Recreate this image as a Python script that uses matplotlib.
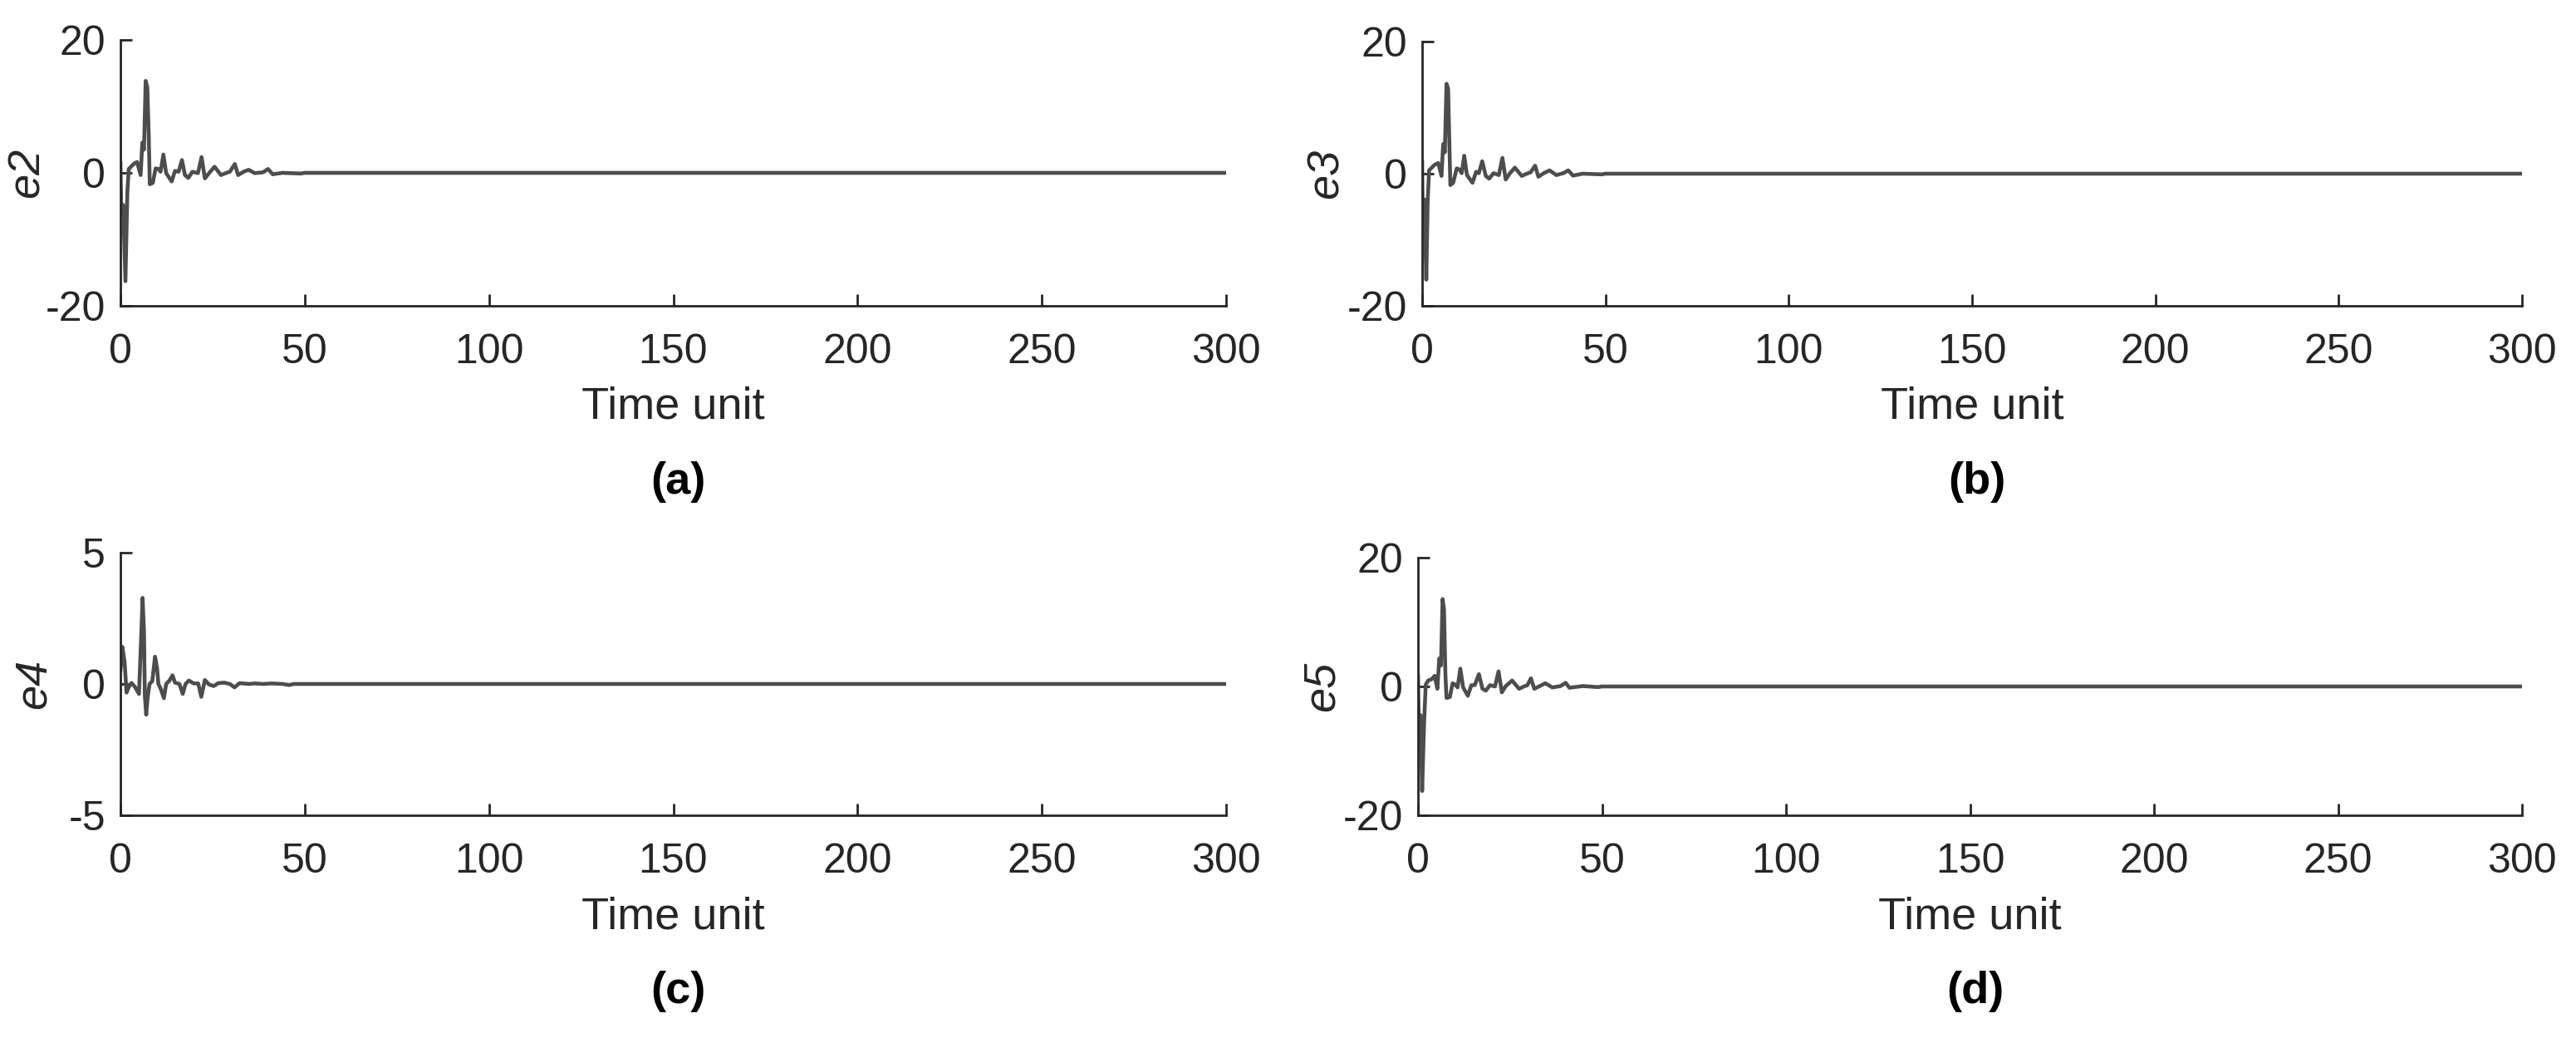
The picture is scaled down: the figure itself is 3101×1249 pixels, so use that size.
import matplotlib
matplotlib.use("Agg")
import matplotlib.pyplot as plt

plt.rcParams['font.family'] = ['Liberation Sans', 'DejaVu Sans']
plt.rcParams['axes.unicode_minus'] = False

# error traces (time unit, value); flat at zero after ~50
t_e2 = [0, 0.23, 0.75, 1.35, 1.88, 2.25, 3.0, 3.76, 4.51, 5.48, 5.93, 6.39, 6.84, 7.29, 7.66, 7.96,
        8.79, 9.54, 10.29, 10.89, 11.65, 12.40, 13.90, 14.80, 15.78, 16.68, 17.50, 18.41, 19.53,
        21.03, 22.01, 22.91, 24.04, 25.54, 27.27, 28.55, 29.68, 31.03, 31.93, 33.43, 34.78, 36.44,
        38.69, 40.04, 41.32, 43.95, 49.0, 50.0, 300]
v_e2 = [1.42, -6.08, -4.83, -16.29, -2.75, 0.58, 1.0, 1.42, 1.63, -0.33, 4.54, 3.5, 13.83, 12.88, 6.0,
        -1.71, -1.5, 0.67, 0.58, 0.17, 2.75, -0.04, -1.29, 0.29, 0.17, 1.92, -0.33, -0.75, 0.17,
        -0.04, 2.38, -0.83, -0.04, 0.92, -0.33, -0.04, 0.17, 1.33, -0.33, 0.17, 0.46, -0.04,
        0.08, 0.58, -0.21, 0.0, -0.1, 0.0, 0.0]

t_e3 = [0, 0.14, 0.6, 1.13, 1.5, 1.88, 2.63, 3.39, 4.37, 5.28, 5.73, 6.18, 6.64, 7.09, 7.39, 7.69,
        8.45, 9.43, 10.19, 10.79, 11.47, 12.22, 13.73, 14.72, 15.47, 16.38, 17.36, 18.26, 19.47,
        20.91, 21.89, 22.79, 23.85, 25.28, 27.17, 28.53, 29.59, 30.8, 31.7, 33.2, 34.72, 36.61,
        38.5, 39.86, 41.14, 43.78, 49.0, 50.0, 300]
v_e3 = [1.76, -6.4, -3.9, -16.04, -4.3, 0.5, 0.92, 1.34, 1.63, -0.34, 4.48, 3.23, 13.61, 12.86, 5.32,
        -1.72, -1.38, 0.8, 0.63, 0.08, 2.72, -0.21, -1.38, 0.29, 0.08, 1.88, -0.34, -0.75, 0.08,
        -0.21, 2.39, -0.88, 0.0, 0.92, -0.34, 0.0, 0.21, 1.21, -0.46, 0.08, 0.5, -0.21,
        0.08, 0.5, -0.29, 0.0, -0.1, 0.0, 0.0]

t_e4 = [0, 0.53, 1.13, 1.65, 2.25, 3.0, 3.98, 5.03, 5.48, 6.01, 6.39, 6.61, 6.99, 7.36, 7.89, 8.64,
        9.39, 9.92, 10.29, 10.89, 11.79, 12.40, 13.30, 14.12, 14.80, 16.0, 16.9, 17.65, 18.56,
        19.9, 21.1, 21.94, 22.91, 24.04, 25.32, 26.52, 28.17, 29.68, 30.95, 32.3, 34.93, 36.44,
        38.69, 40.95, 43.95, 45.8, 47.0, 300]
v_e4 = [0.52, 1.41, 0.83, -0.33, -0.12, 0.04, -0.12, -0.38, 1.26, 3.28, 1.99, -0.43, -1.17, -0.54,
        0.0, 0.11, 1.04, 0.62, 0.0, -0.17, -0.54, 0.0, 0.13, 0.33, 0.05, 0.0, -0.38, 0.0, 0.13,
        0.02, 0.02, -0.49, 0.15, -0.02, -0.08, 0.03, 0.05, 0.0, -0.13, 0.03, 0.0, 0.02,
        0.0, 0.02, 0.0, -0.04, 0.0, 0.0]

t_e5 = [0, 0.22, 0.67, 1.12, 1.65, 2.1, 2.78, 3.75, 4.51, 5.26, 5.79, 6.24, 6.69, 7.07, 7.44, 7.74,
        8.65, 9.4, 10.15, 10.75, 11.5, 12.26, 13.54, 14.51, 15.42, 16.55, 17.52, 18.43, 19.56,
        20.91, 21.89, 22.79, 23.84, 25.58, 27.46, 28.81, 29.71, 30.69, 31.6, 33.1, 34.6, 36.49,
        38.74, 40.1, 41.15, 44.76, 49.0, 50.0, 300]
v_e5 = [1.57, -6.15, -4.44, -16.23, -5.72, 0.28, 0.92, 1.14, 1.65, -0.36, 4.35, 3.28, 13.57, 11.86,
        2.0, -1.78, -1.65, 0.49, 0.28, -0.15, 2.77, -0.15, -1.44, 0.2, 0.2, 1.91, -0.36, -0.65, 0.2,
        0.0, 2.34, -0.92, 0.06, 0.92, -0.36, 0.0, 0.2, 1.26, -0.36, 0.06, 0.5, -0.15,
        0.06, 0.57, -0.2, 0.06, -0.1, 0.0, 0.0]

panels = [
    ("e2", t_e2, v_e2, 20, "(a)"),
    ("e3", t_e3, v_e3, 20, "(b)"),
    ("e4", t_e4, v_e4, 5, "(c)"),
    ("e5", t_e5, v_e5, 20, "(d)"),
]
x_ticks = [0, 50, 100, 150, 200, 250, 300]

W, H = 3101, 1249
# axes boxes in pixels: left, top, right, bottom
boxes = [(145, 48, 1476, 368), (1712, 50, 3036, 368),
         (145, 665, 1476, 981), (1707, 671, 3036, 981)]
# x centre of the rotated y labels, in pixels
ylab_x = [33, 1597, 41, 1592]

ink = '#262626'
fig = plt.figure(figsize=(W / 100, H / 100), dpi=100)

for (name, t, v, lim, tag), (l, tp, r, b), lx in zip(panels, boxes, ylab_x):
    ax = fig.add_axes([l / W, 1 - b / H, (r - l) / W, (b - tp) / H])
    ax.plot(t, v, color='#4d4d4d', lw=3.3)
    ax.set_xlim(0, 300)
    ax.set_ylim(-lim, lim)
    ax.set_xticks(x_ticks)
    ax.set_yticks([-lim, 0, lim])
    for s in ('top', 'right'):
        ax.spines[s].set_visible(False)
    for s in ('left', 'bottom'):
        ax.spines[s].set_linewidth(2.0)
        ax.spines[s].set_color(ink)
    ax.tick_params(direction='in', length=10, width=2.0, colors=ink, labelsize=36)
    ax.tick_params(axis='x', pad=24)
    ax.tick_params(axis='y', pad=13)

    ax.set_ylabel(name, fontsize=39, color=ink, style='italic')
    ax.yaxis.label.set_va('center')
    ax.yaxis.set_label_coords((lx - l) / (r - l), 0.5)

    ax.set_xlabel('Time unit', fontsize=39, color=ink)
    ax.xaxis.label.set_va('center')
    ax.xaxis.set_label_coords(0.5, 1 - (b + 122 - tp) / (b - tp))

    fig.text((l + r) / 2 / W + 0.002, 1 - (b + 212) / H, tag, fontsize=39,
             fontweight='bold', ha='center', va='center', color='black')

fig.savefig('out.png', dpi=100)
